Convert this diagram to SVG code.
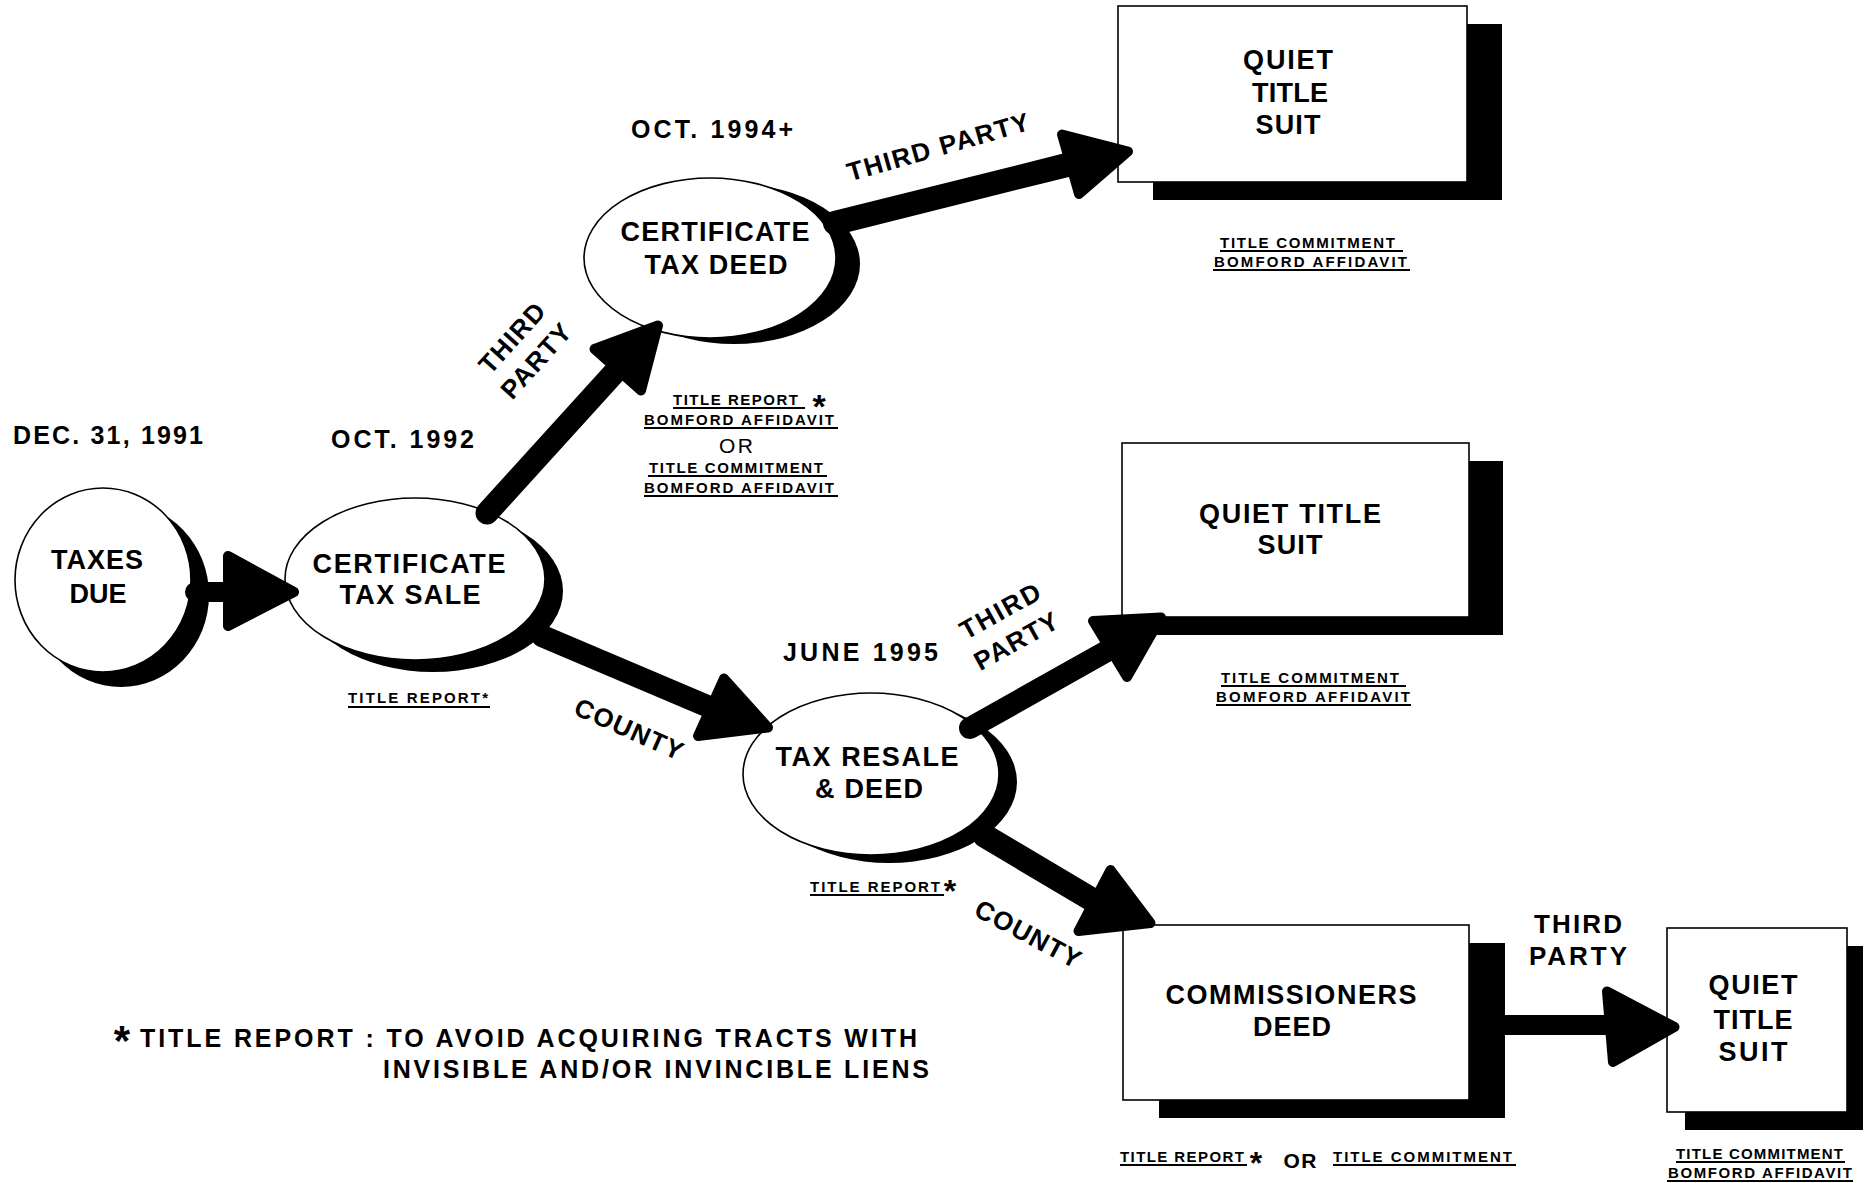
<svg xmlns="http://www.w3.org/2000/svg" width="1867" height="1183" viewBox="0 0 1867 1183">
<style>
.bg{fill:#fff}
.sh{fill:#000}
.nf{fill:#fff;stroke:#000;stroke-width:1.6}
.shaft{stroke:#000;fill:none;stroke-linecap:round}
.head{fill:#000;stroke:#000;stroke-width:10;stroke-linejoin:round}
text{font-family:"Liberation Sans",Arial,Helvetica,sans-serif;font-weight:bold;fill:#000}
.nl{font-size:27px;text-anchor:middle}
.dl{font-size:25px}
.rl{font-size:26px;text-anchor:middle}
.sm{font-size:15px}
.star{text-anchor:middle}
.ul{stroke:#000;stroke-width:2}
.or{font-weight:normal;font-size:21px;text-anchor:middle}
.fn{font-size:25px}
</style>
<rect class="bg" x="0" y="0" width="1867" height="1183"/>

<g id="node-taxes-due">
  <ellipse class="sh" cx="121" cy="595" rx="88" ry="92"/>
  <ellipse class="nf" cx="103" cy="580" rx="88" ry="92"/>
  <text class="nl" x="97" y="569" textLength="92" lengthAdjust="spacing">TAXES</text>
  <text class="nl" x="98" y="603" textLength="57" lengthAdjust="spacing">DUE</text>
</g>

<g id="node-certificate-tax-sale">
  <ellipse class="sh" cx="433" cy="591" rx="130" ry="81"/>
  <ellipse class="nf" cx="415" cy="579" rx="130" ry="81"/>
  <text class="nl" x="409" y="573" textLength="193" lengthAdjust="spacing">CERTIFICATE</text>
  <text class="nl" x="410" y="604" textLength="141" lengthAdjust="spacing">TAX SALE</text>
  <text class="sm" x="348" y="703" textLength="140" lengthAdjust="spacing">TITLE REPORT*</text>
  <line class="ul" x1="348" y1="707" x2="490" y2="707"/>
</g>

<g id="node-certificate-tax-deed">
  <ellipse class="sh" cx="734" cy="264" rx="126" ry="80"/>
  <ellipse class="nf" cx="710" cy="258" rx="126" ry="80"/>
  <text class="nl" x="715" y="241" textLength="189" lengthAdjust="spacing">CERTIFICATE</text>
  <text class="nl" x="716" y="274" textLength="143" lengthAdjust="spacing">TAX DEED</text>
  <text class="sm" x="673" y="405" textLength="125" lengthAdjust="spacing">TITLE REPORT</text>
  <line class="ul" x1="673" y1="408" x2="805" y2="408"/>
  <text class="star" x="819" y="418" font-size="34">*</text>
  <text class="sm" x="644" y="425" textLength="190" lengthAdjust="spacing">BOMFORD AFFIDAVIT</text>
  <line class="ul" x1="644" y1="428" x2="838" y2="428"/>
  <text class="or" x="736" y="453" textLength="34" lengthAdjust="spacing">OR</text>
  <text class="sm" x="649" y="473" textLength="174" lengthAdjust="spacing">TITLE COMMITMENT</text>
  <line class="ul" x1="648" y1="476" x2="827" y2="476"/>
  <text class="sm" x="644" y="493" textLength="190" lengthAdjust="spacing">BOMFORD AFFIDAVIT</text>
  <line class="ul" x1="644" y1="496" x2="838" y2="496"/>
</g>

<g id="node-tax-resale-deed">
  <ellipse class="sh" cx="889" cy="782" rx="128" ry="81"/>
  <ellipse class="nf" cx="871" cy="774" rx="128" ry="81"/>
  <text class="nl" x="867" y="766" textLength="183" lengthAdjust="spacing">TAX RESALE</text>
  <text class="nl" x="869" y="798" textLength="108" lengthAdjust="spacing">&amp; DEED</text>
  <text class="sm" x="810" y="892" textLength="130" lengthAdjust="spacing">TITLE REPORT</text>
  <line class="ul" x1="810" y1="895" x2="944" y2="895"/>
  <text class="star" x="950" y="902" font-size="32">*</text>
</g>

<g id="node-quiet-title-suit-1">
  <rect class="sh" x="1153" y="24" width="349" height="176"/>
  <rect class="nf" x="1118" y="6" width="349" height="176"/>
  <text class="nl" x="1288" y="69" textLength="90" lengthAdjust="spacing">QUIET</text>
  <text class="nl" x="1290" y="102" textLength="76" lengthAdjust="spacing">TITLE</text>
  <text class="nl" x="1288" y="134" textLength="65" lengthAdjust="spacing">SUIT</text>
  <text class="sm" x="1220" y="248" textLength="175" lengthAdjust="spacing">TITLE COMMITMENT</text>
  <line class="ul" x1="1220" y1="251" x2="1403" y2="251"/>
  <text class="sm" x="1214" y="267" textLength="193" lengthAdjust="spacing">BOMFORD AFFIDAVIT</text>
  <line class="ul" x1="1213" y1="270" x2="1410" y2="270"/>
</g>

<g id="node-quiet-title-suit-2">
  <rect class="sh" x="1156" y="461" width="347" height="174"/>
  <rect class="nf" x="1122" y="443" width="347" height="174"/>
  <text class="nl" x="1290" y="523" textLength="182" lengthAdjust="spacing">QUIET TITLE</text>
  <text class="nl" x="1290" y="554" textLength="65" lengthAdjust="spacing">SUIT</text>
  <text class="sm" x="1221" y="683" textLength="178" lengthAdjust="spacing">TITLE COMMITMENT</text>
  <line class="ul" x1="1221" y1="686" x2="1406" y2="686"/>
  <text class="sm" x="1216" y="702" textLength="194" lengthAdjust="spacing">BOMFORD AFFIDAVIT</text>
  <line class="ul" x1="1216" y1="705" x2="1411" y2="705"/>
</g>

<g id="node-commissioners-deed">
  <rect class="sh" x="1159" y="943" width="346" height="175"/>
  <rect class="nf" x="1123" y="925" width="346" height="175"/>
  <text class="nl" x="1291" y="1004" textLength="251" lengthAdjust="spacing">COMMISSIONERS</text>
  <text class="nl" x="1292" y="1036" textLength="78" lengthAdjust="spacing">DEED</text>
  <text class="sm" x="1120" y="1162" textLength="124" lengthAdjust="spacing">TITLE REPORT</text>
  <line class="ul" x1="1120" y1="1165" x2="1247" y2="1165"/>
  <text class="star" x="1256" y="1174" font-size="32">*</text>
  <text x="1300" y="1168" font-size="21" text-anchor="middle" textLength="33" lengthAdjust="spacing">OR</text>
  <text class="sm" x="1333" y="1162" textLength="179" lengthAdjust="spacing">TITLE COMMITMENT</text>
  <line class="ul" x1="1333" y1="1165" x2="1516" y2="1165"/>
</g>

<g id="node-quiet-title-suit-3">
  <rect class="sh" x="1685" y="946" width="178" height="184"/>
  <rect class="nf" x="1667" y="928" width="180" height="184"/>
  <text class="nl" x="1753" y="994" textLength="89" lengthAdjust="spacing">QUIET</text>
  <text class="nl" x="1753" y="1029" textLength="79" lengthAdjust="spacing">TITLE</text>
  <text class="nl" x="1753" y="1061" textLength="69" lengthAdjust="spacing">SUIT</text>
  <text class="sm" x="1676" y="1159" textLength="167" lengthAdjust="spacing">TITLE COMMITMENT</text>
  <line class="ul" x1="1676" y1="1162" x2="1845" y2="1162"/>
  <text class="sm" x="1668" y="1178" textLength="184" lengthAdjust="spacing">BOMFORD AFFIDAVIT</text>
  <line class="ul" x1="1667" y1="1181" x2="1853" y2="1181"/>
</g>

<g id="connectors">
  <g id="arrow-taxes-to-sale">
    <line class="shaft" x1="195" y1="592" x2="240" y2="592" stroke-width="20" stroke-linecap="butt"/>
    <polygon class="head" points="228,556 294,592 228,626"/>
  </g>
  <g id="arrow-sale-to-deed">
    <line class="shaft" x1="487" y1="513" x2="615" y2="372" stroke-width="23"/>
    <polygon class="head" points="594.5,349 658,325.5 641,390.5"/>
  </g>
  <g id="arrow-deed-to-quiet1">
    <line class="shaft" x1="835" y1="223" x2="1067" y2="165" stroke-width="24"/>
    <polygon class="head" points="1062,134.5 1128,151.5 1079,194"/>
  </g>
  <g id="arrow-sale-to-resale">
    <line class="shaft" x1="542" y1="636" x2="707" y2="706" stroke-width="22"/>
    <polygon class="head" points="724,678.5 768,727.5 698,736"/>
  </g>
  <g id="arrow-resale-to-quiet2">
    <line class="shaft" x1="970" y1="728" x2="1107" y2="651" stroke-width="22"/>
    <polygon class="head" points="1093,621 1161,617.5 1127,677"/>
  </g>
  <g id="arrow-resale-to-commissioners">
    <line class="shaft" x1="985" y1="836" x2="1091" y2="899" stroke-width="24"/>
    <polygon class="head" points="1110.5,870 1150.5,923 1078.5,931"/>
  </g>
  <g id="arrow-commissioners-to-quiet3">
    <line class="shaft" x1="1500" y1="1025" x2="1615" y2="1025" stroke-width="20" stroke-linecap="butt"/>
    <polygon class="head" points="1607,991.5 1674.5,1027 1613,1062"/>
  </g>
  <g id="connector-labels">
    <text class="rl" transform="translate(938,147) rotate(-16)" x="0" y="9" textLength="188" lengthAdjust="spacing">THIRD PARTY</text>
    <text class="rl" transform="translate(512,338) rotate(-48)" x="0" y="9" textLength="85" lengthAdjust="spacing">THIRD</text>
    <text class="rl" transform="translate(536,361) rotate(-48)" x="0" y="9" textLength="91" lengthAdjust="spacing">PARTY</text>
    <text class="rl" transform="translate(1000,611) rotate(-29)" x="0" y="9" textLength="88" lengthAdjust="spacing">THIRD</text>
    <text class="rl" transform="translate(1016,641) rotate(-29)" x="0" y="9" textLength="92" lengthAdjust="spacing">PARTY</text>
    <text class="rl" transform="translate(629,729) rotate(24)" x="0" y="9" textLength="116" lengthAdjust="spacing">COUNTY</text>
    <text class="rl" transform="translate(1028,934) rotate(28)" x="0" y="9" textLength="116" lengthAdjust="spacing">COUNTY</text>
    <text class="rl" x="1578" y="933" textLength="88" lengthAdjust="spacing">THIRD</text>
    <text class="rl" x="1578" y="965" textLength="98" lengthAdjust="spacing">PARTY</text>
  </g>
</g>

<g id="dates">
  <text class="dl" x="13" y="444" textLength="190" lengthAdjust="spacing">DEC. 31, 1991</text>
  <text class="dl" x="331" y="448" textLength="143" lengthAdjust="spacing">OCT. 1992</text>
  <text class="dl" x="631" y="138" textLength="162" lengthAdjust="spacing">OCT. 1994+</text>
  <text class="dl" x="783" y="661" textLength="155" lengthAdjust="spacing">JUNE 1995</text>
</g>

<g id="footnote">
  <text class="star" x="122" y="1055" font-size="42">*</text>
  <text class="fn" x="140" y="1047" textLength="777" lengthAdjust="spacing">TITLE REPORT : TO AVOID ACQUIRING TRACTS WITH</text>
  <text class="fn" x="383" y="1078" textLength="546" lengthAdjust="spacing">INVISIBLE AND/OR INVINCIBLE LIENS</text>
</g>
</svg>
